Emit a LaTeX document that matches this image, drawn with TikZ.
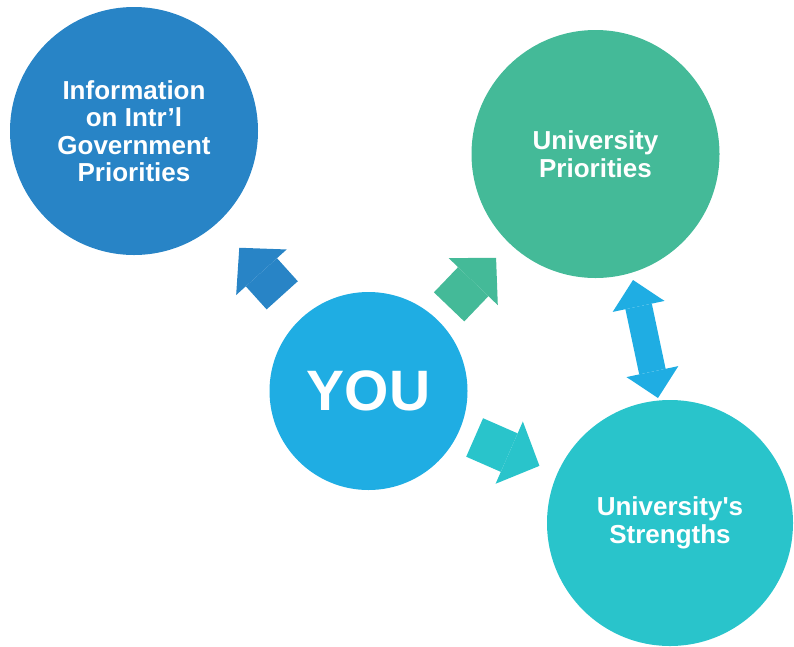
\documentclass[tikz,border=0pt]{standalone}
\usepackage{fontspec}
\setmainfont{Liberation Sans}
\usetikzlibrary{arrows.meta}
\usetikzlibrary{calc}
\definecolor{govColor}{RGB}{40,132,198}
\definecolor{uniColor}{RGB}{68,186,152}
\definecolor{youColor}{RGB}{31,173,227}
\definecolor{strColor}{RGB}{41,196,203}
\tikzset{
  bubble/.style={circle, inner sep=0pt, minimum size=#1, text=white, align=center,
    font=\bfseries\fontsize{26}{27.5}\selectfont},
  block/.style={line width=42pt, -{Triangle[length=33pt,width=68pt,line width=0pt]}},
  twoway/.style={line width=27pt, {Triangle[length=27pt,width=53pt,line width=0pt]}-{Triangle[length=27pt,width=53pt,line width=0pt]}}
}

\begin{document}
\begin{tikzpicture}[x=1pt,y=-1pt]
\useasboundingbox (0,0) rectangle (794,646);

\node [bubble=248pt, fill=govColor] (gov) at (134,131) {Information\\on Intr’l\\Government\\Priorities};
\node [bubble=248pt, fill=uniColor] (uni) at (595.5,154) {University\\Priorities};
\node [bubble=246pt, fill=strColor] (str) at (670,523) {University\textquotesingle s\\Strengths};
\node [bubble=198pt, fill=youColor, font=\bfseries\fontsize{57}{60}\selectfont] (you) at (368.5,391) {YOU};

\coordinate (a1) at ($(you)!0.368!(gov)$);
\coordinate (b1) at ($(you)!0.551!(gov)$);
\coordinate (a2) at ($(you)!0.355!(uni)$);
\coordinate (b2) at ($(you)!0.562!(uni)$);
\coordinate (a3) at ($(you)!0.352!(str)$);
\coordinate (b3) at ($(you)!0.567!(str)$);
\coordinate (top) at (633,280);
\coordinate (bot) at (658,398);

\draw [block, govColor] (a1) -- (b1);
\draw [block, uniColor] (a2) -- (b2);
\draw [block, strColor] (a3) -- (b3);
\draw [twoway, youColor] (top) -- (bot);
\end{tikzpicture}
\end{document}
